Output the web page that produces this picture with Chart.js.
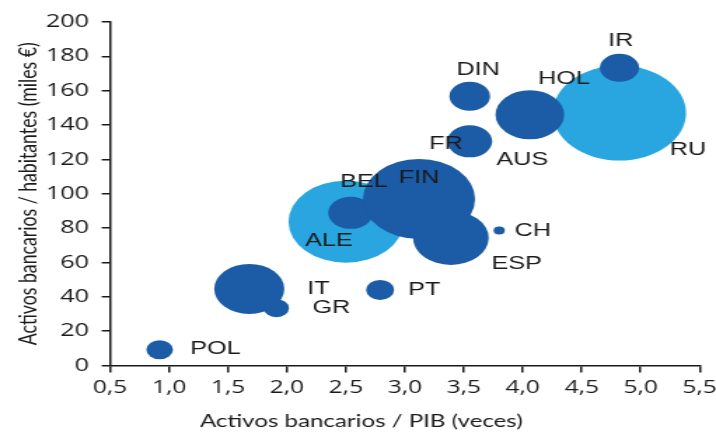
<!DOCTYPE html>
<html>
<head>
<meta charset="utf-8">
<script src="https://cdn.jsdelivr.net/npm/chart.js@4.4.1/dist/chart.umd.min.js"></script>
<style>
  html, body { margin: 0; padding: 0; background: #ffffff; overflow: hidden; }
  /* the chart is drawn narrow and widened, giving the oval bubbles and wide lettering */
  #wrap { width: 511px; height: 434px; transform: scaleX(1.4012); transform-origin: 0 0; }
</style>
</head>
<body>
<div id="wrap"><canvas id="chart" width="511" height="434"></canvas></div>
<script>
// Bubbles: bank assets over GDP (times) and bank assets per inhabitant (thousand EUR)
const countries       = ['POL', 'IT', 'GR', 'PT', 'CH', 'ESP', 'ALE', 'BEL', 'FIN', 'FR', 'DIN', 'HOL', 'RU', 'IR'];
const assetsToGdp     = [0.92, 1.68, 1.91, 2.79, 3.80, 3.39, 2.50, 2.54, 3.12, 3.55, 3.55, 4.06, 4.82, 4.82];
const assetsPerCapita = [9.2, 44.6, 33.4, 44.0, 78.6, 74.3, 83.7, 88.9, 96.9, 130.5, 156.7, 146.0, 147.0, 173.3];
const bubbleSize      = [9.5, 25, 9, 10, 4, 27, 41, 16, 40, 16, 14.5, 24.5, 47.5, 14];
const lightCountries  = ['ALE', 'RU'];

// Country tags, anchored (left edge, middle) in axis units
const tagText = ['IR', 'DIN', 'HOL', 'FR', 'AUS', 'RU', 'BEL', 'FIN', 'ALE', 'CH', 'ESP', 'IT', 'GR', 'PT', 'POL'];
const tagX    = [4.725, 3.437, 4.131, 3.205, 3.777, 5.248, 2.452, 2.947, 2.155, 3.93, 3.734, 2.172, 2.215, 3.027, 1.179];
const tagY    = [188.8, 172.3, 167.0, 129.2, 119.4, 125.7, 106.8, 109.2, 72.2, 78.4, 58.8, 44.6, 33.4, 44.0, 9.6];

// Axis tick values and titles
const xTicks = [0.5, 1.0, 1.5, 2.0, 2.5, 3.0, 3.5, 4.0, 4.5, 5.0, 5.5];
const yTicks = [0, 20, 40, 60, 80, 100, 120, 140, 160, 180, 200];
const xTitle = 'Activos bancarios / PIB (veces)';
const yTitle = 'Activos bancarios / habitantes (miles €)';

const DARK = '#1c5ba6';
const LIGHT = '#29a6e0';
const INK = '#1a1a1a';

function points(filterFn) {
  const out = [];
  countries.forEach((c, i) => {
    if (filterFn(c)) out.push({ x: assetsToGdp[i], y: assetsPerCapita[i], r: bubbleSize[i], name: c });
  });
  return out;
}

// Country tags next to the bubbles, plus the horizontal axis title (set slightly left of the plot centre)
const tagPlugin = {
  id: 'countryTags',
  afterDatasetsDraw(chart) {
    const { ctx, scales } = chart;
    ctx.save();
    ctx.font = '18px "Liberation Sans", Arial, sans-serif';
    ctx.fillStyle = INK;
    ctx.textAlign = 'left';
    ctx.textBaseline = 'middle';
    tagText.forEach((t, i) => {
      ctx.fillText(t, scales.x.getPixelForValue(tagX[i]), scales.y.getPixelForValue(tagY[i]));
    });
    ctx.font = '17.2px Lato, sans-serif';
    ctx.textAlign = 'center';
    ctx.fillText(xTitle, scales.x.getPixelForValue(2.63), chart.height - 13);
    ctx.restore();
  }
};

new Chart(document.getElementById('chart'), {
  type: 'bubble',
  data: {
    datasets: [
      { label: 'dark', data: points(c => !lightCountries.includes(c)), backgroundColor: DARK, borderWidth: 0, hoverBorderWidth: 0 },
      { label: 'light', data: points(c => lightCountries.includes(c)), backgroundColor: LIGHT, borderWidth: 0, hoverBorderWidth: 0 }
    ]
  },
  options: {
    responsive: false,
    devicePixelRatio: 1,
    animation: false,
    layout: { autoPadding: false, padding: { top: 22, right: 11.7, bottom: 4, left: 0 } },
    plugins: {
      legend: { display: false },
      tooltip: { callbacks: { label: c => c.raw.name + ': ' + c.raw.x + ' / ' + c.raw.y } }
    },
    scales: {
      x: {
        type: 'linear',
        min: xTicks[0],
        max: xTicks[xTicks.length - 1],
        afterBuildTicks: s => { s.ticks = xTicks.map(v => ({ value: v })); },
        afterFit: s => { s.height = 434 - 365.5 - 4; s.paddingLeft = 0; s.paddingRight = 0; },
        ticks: {
          callback: v => v.toFixed(1).replace('.', ','),
          font: { family: '"Open Sans", sans-serif', size: 17.5 },
          color: INK,
          padding: 5,
          maxRotation: 0
        },
        grid: { drawOnChartArea: false, drawTicks: true, tickLength: 7, color: INK, lineWidth: 1.5 },
        border: { color: INK, width: 1.5 },
        title: { display: false, text: xTitle }
      },
      y: {
        type: 'linear',
        min: yTicks[0],
        max: yTicks[yTicks.length - 1],
        afterBuildTicks: s => { s.ticks = yTicks.map(v => ({ value: v })); },
        afterFit: s => { s.width = 78.6; s.paddingTop = 0; s.paddingBottom = 0; },
        ticks: {
          font: { family: '"Open Sans", sans-serif', size: 18 },
          color: INK,
          padding: 9
        },
        grid: { drawOnChartArea: false, drawTicks: true, tickLength: 6, color: INK, lineWidth: 1.5 },
        border: { color: INK, width: 1.5 },
        title: {
          display: true,
          text: yTitle,
          font: { family: 'Lato, sans-serif', size: 17.7 },
          color: INK,
          padding: { top: 10, bottom: 0 }
        }
      }
    }
  },
  plugins: [tagPlugin]
});
</script>
</body>
</html>
